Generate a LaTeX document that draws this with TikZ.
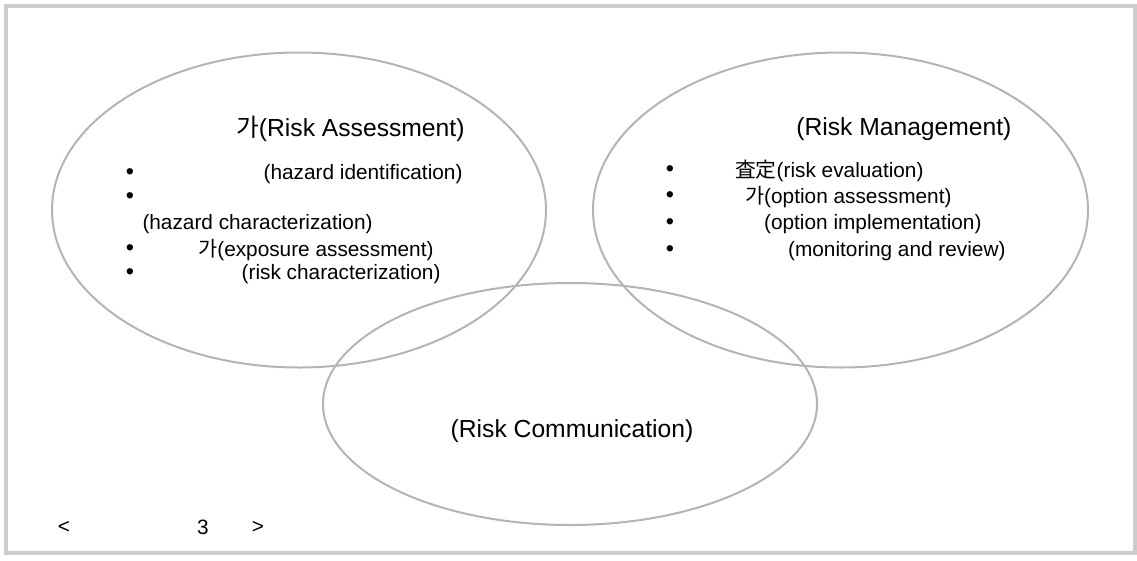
\documentclass[tikz,border=0pt]{standalone}
\usepackage{fontspec}
\setmainfont{Liberation Sans}
\newfontfamily\cjk{Noto Sans CJK KR}

\tikzset{every picture/.style={line width=0.75pt}}
\tikzset{
  ring/.style={draw={rgb, 255:red, 180; green, 180; blue, 180 }, line width=1.5pt},
  headtxt/.style={inner sep=0.75pt, font=\fontsize{18.5}{22}\selectfont},
  bodytxt/.style={inner sep=0.75pt, font=\fontsize{15.6}{19}\selectfont},
  dottxt/.style={inner sep=0.75pt, font=\fontsize{17.5}{19}\selectfont},
}

\begin{document}
\begin{tikzpicture}[x=0.75pt,y=0.75pt,yscale=-1,xscale=1]
\useasboundingbox (0,0) rectangle (1137,560);

%Shape: Rectangle [id:frame] 
\draw [color={rgb, 255:red, 204; green, 204; blue, 204 }, line width=3pt] (5.5,6) -- (1134.5,6) -- (1134.5,553) -- (5.5,553) -- cycle ;
%Shape: Ellipse [id:assess] 
\draw [ring] (299,210) ellipse [x radius=247, y radius=157.5] ;
%Shape: Ellipse [id:manage] 
\draw [ring] (840.5,210) ellipse [x radius=247.5, y radius=157.5] ;
%Shape: Ellipse [id:comm] 
\draw [ring] (570,404) ellipse [x radius=247, y radius=121] ;

% Text Node
\node (assesshead) at (466,129) [anchor=east, headtxt] {{\cjk 가}(Risk Assessment)};
% Text Node
\node (assessdot1) at (130,174) [dottxt] {•};
% Text Node
\node (assesstxt1) at (464,174) [anchor=east, bodytxt] {(hazard identification)};
% Text Node
\node (assessdot2) at (130,198) [dottxt] {•};
% Text Node
\node (assesstxt2) at (141,224) [anchor=west, bodytxt] {(hazard characterization)};
% Text Node
\node (assessdot3) at (130,250) [dottxt] {•};
% Text Node
\node (assesstxt3) at (435,250) [anchor=east, bodytxt] {{\cjk 가}(exposure assessment)};
% Text Node
\node (assessdot4) at (130,274) [dottxt] {•};
% Text Node
\node (assesstxt4) at (442,274) [anchor=east, bodytxt] {(risk characterization)};

% Text Node
\node (managehead) at (1013,129) [anchor=east, headtxt] {(Risk Management)};
% Text Node
\node (managedot1) at (670,171) [dottxt] {•};
% Text Node
\node (managetxt1) at (925,171) [anchor=east, bodytxt] {{\cjk 査定}(risk evaluation)};
% Text Node
\node (managedot2) at (670,197) [dottxt] {•};
% Text Node
\node (managetxt2) at (953,197) [anchor=east, bodytxt] {{\cjk 가}(option assessment)};
% Text Node
\node (managedot3) at (670,224) [dottxt] {•};
% Text Node
\node (managetxt3) at (983,224) [anchor=east, bodytxt] {(option implementation)};
% Text Node
\node (managedot4) at (670,251) [dottxt] {•};
% Text Node
\node (managetxt4) at (1007,251) [anchor=east, bodytxt] {(monitoring and review)};

% Text Node
\node (commhead) at (572,431) [headtxt] {(Risk Communication)};

% Text Node
\node (figleft) at (64,527) [bodytxt] {<};
% Text Node
\node (fignum) at (203,527) [bodytxt] {3};
% Text Node
\node (figright) at (258,527) [bodytxt] {>};

\end{tikzpicture}
\end{document}
